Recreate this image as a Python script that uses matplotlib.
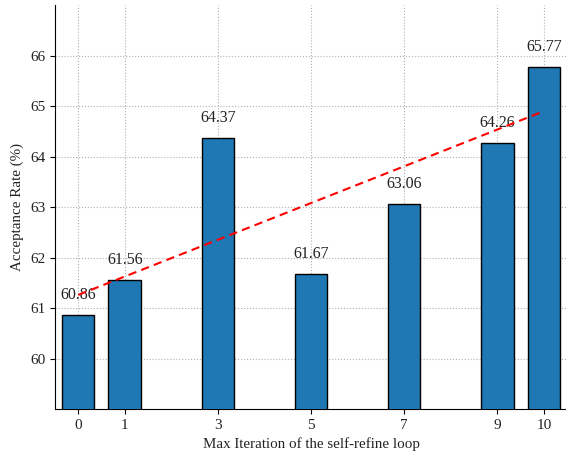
import numpy as np
import matplotlib.pyplot as plt

plt.rcParams['font.family'] = ['Liberation Serif', 'DejaVu Serif']

iterations = [0, 1, 3, 5, 7, 9, 10]
acceptance = [60.86, 61.56, 64.37, 61.67, 63.06, 64.26, 65.77]

fig = plt.figure(figsize=(5.66, 4.54), dpi=100)
ax = fig.add_axes([0.097, 0.099, 0.905, 0.89])

ax.bar(iterations, acceptance, width=0.7, color='#1f77b4', edgecolor='black',
       linewidth=1.0, zorder=3)

for x, v in zip(iterations, acceptance):
    ax.text(x, v + 0.24, f"{v:.2f}", ha='center', va='bottom', fontsize=11.5,
            color='#222222', zorder=4)

# linear trend
coef = np.polyfit(iterations, acceptance, 1)
xs = np.array([min(iterations), max(iterations)])
ax.plot(xs, np.polyval(coef, xs), color='red', linestyle=(0, (4, 2.5)),
        linewidth=1.5, zorder=5)

ax.set_xlim(-0.5, 10.5)
ax.set_ylim(59, 67)
ax.set_xticks(iterations)
ax.set_yticks([60, 61, 62, 63, 64, 65, 66])
ax.tick_params(labelsize=11, labelcolor='#222222')
ax.set_xlabel("Max Iteration of the self-refine loop", fontsize=10.8, color='#222222')
ax.set_ylabel("Acceptance Rate (%)", fontsize=10.8, color='#222222')
ax.grid(True, linestyle=':', color='#b0b0b0', linewidth=0.8, zorder=0)
ax.set_axisbelow(True)
ax.spines['top'].set_visible(False)
ax.spines['right'].set_visible(False)

fig.savefig("out.png", dpi=100)
